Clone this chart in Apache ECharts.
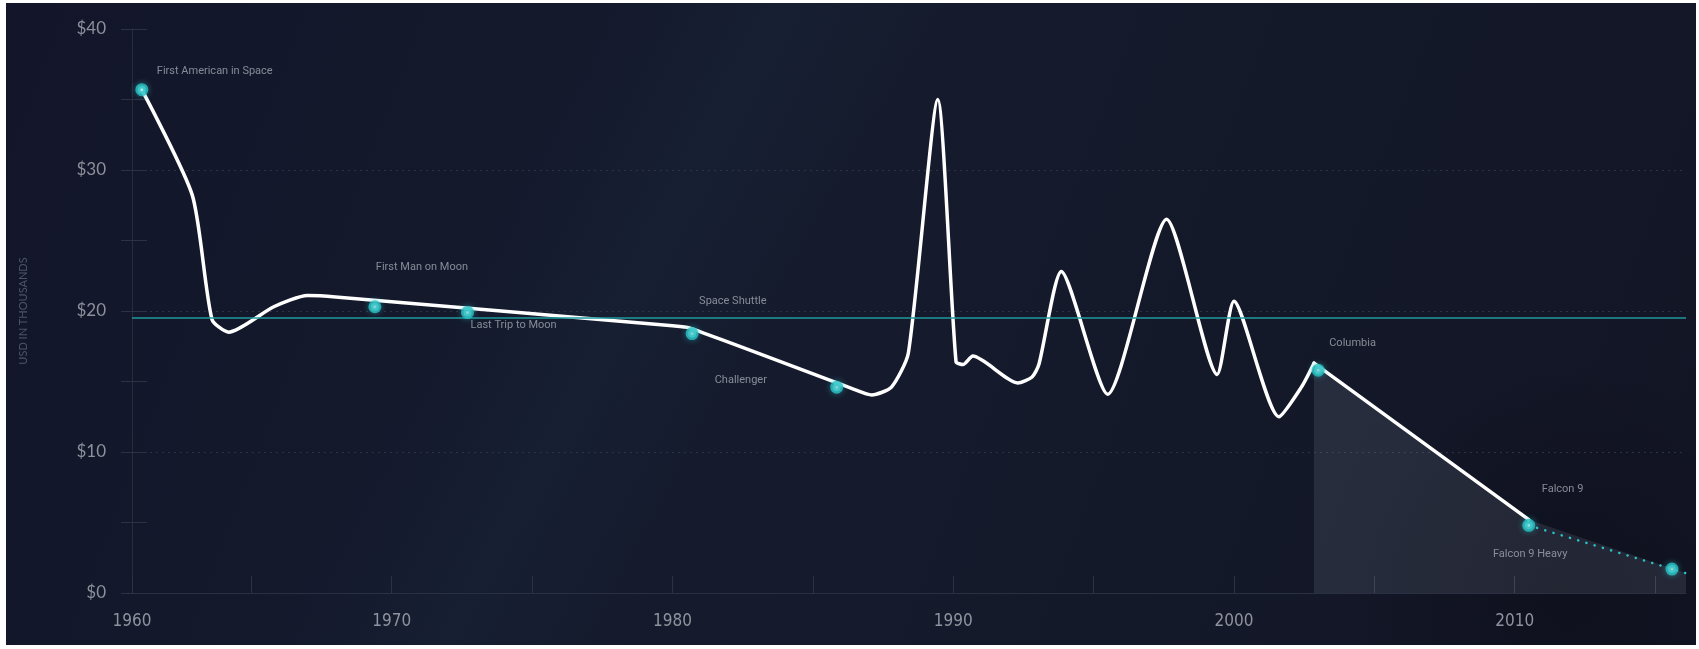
<!DOCTYPE html>
<html>
<head>
<meta charset="utf-8">
<title>Cost per pound to orbit</title>
<script src="https://cdn.jsdelivr.net/npm/echarts@6/dist/echarts.min.js"></script>
<style>
  html, body { margin: 0; padding: 0; background: #ffffff; }
  #chart { position: absolute; left: 6px; top: 3px; width: 1690px; height: 642px; }
</style>
</head>
<body>
<div id="chart"></div>
<script>
// Launch cost curve (USD thousands) by year
const lineYears = [1961.1, 1962.9, 1963.6, 1964.2, 1965.8, 1967.0, 1968.0, 1980.0, 1980.6, 1986.4, 1987.1, 1987.8, 1988.4, 1989.45, 1990.1, 1990.35, 1990.7, 1992.3, 1992.8, 1993.05, 1993.85, 1995.5, 1997.6, 1999.4, 2000.0, 2001.6, 2002.4, 2002.85, 2010.5];
const lineCosts = [35.7, 28.2, 19.4, 18.5, 20.3, 21.1, 21.0, 18.95, 18.8, 14.5, 14.05, 14.6, 17.0, 35.0, 16.4, 16.2, 16.8, 14.9, 15.3, 16.2, 22.8, 14.1, 26.5, 15.5, 20.7, 12.5, 14.6, 16.3, 5.2];

// Projected reusable-launch trend
const projectionYears = [2010.5, 2016.1];
const projectionCosts = [4.8, 1.4];

// Milestones
const eventNames = ['First American in Space', 'First Man on Moon', 'Last Trip to Moon', 'Space Shuttle', 'Challenger', 'Columbia', 'Falcon 9', 'Falcon 9 Heavy'];
const eventYears = [1961.1, 1969.4, 1972.7, 1980.7, 1985.85, 2003.0, 2010.5, 2015.6];
const eventCosts = [35.7, 20.3, 19.9, 18.4, 14.6, 15.8, 4.8, 1.7];

// Average cost across the period
const averageCost = 19.5;

// Axis ticks
const xTickYears = [1960.75, 1965, 1970, 1975, 1980, 1985, 1990, 1995, 2000, 2005, 2010, 2015];
const xLabelYears = [1960.75, 1970, 1980, 1990, 2000, 2010];
const xMin = 1960.75, xMax = 2016.1;
const yMin = 0, yMax = 40;

// label placement relative to each milestone dot (px)
const eventLabelOffsets = [[15, -18], [1, -40], [3, 13], [7, -32], [-122, -7], [11, -27], [13, -36], [-179, -15]];

const TEAL = '#2bc3c5';
const lineData = lineYears.map((y, i) => [y, lineCosts[i]]);
const projectionData = projectionYears.map((y, i) => [y, projectionCosts[i]]);
// the historic curve is smoothed up to Columbia, then runs straight to Falcon 9
const splitIndex = lineYears.indexOf(2002.85);
const curveData = lineData.slice(0, splitIndex + 1);
const tailData = lineData.slice(splitIndex);
const shadeData = tailData.concat(projectionData.slice(1));
const eventData = eventNames.map((n, i) => ({
  name: n,
  value: [eventYears[i], eventCosts[i]],
  label: { offset: eventLabelOffsets[i] }
}));

const chart = echarts.init(document.getElementById('chart'), null, { renderer: 'canvas' });

const option = {
  backgroundColor: {
    type: 'linear', x: 0, y: 0, x2: 1, y2: 1,
    colorStops: [
      { offset: 0, color: '#13162a' },
      { offset: 0.5, color: '#151b2d' },
      { offset: 1, color: '#121524' }
    ]
  },
  animation: false,
  graphic: [
    {
      // faint milky band across the sky
      type: 'rect', z: -10, silent: true,
      shape: { x: 0, y: 0, width: 1690, height: 642 },
      style: {
        fill: {
          type: 'linear', global: true, x: 470, y: 230, x2: 760, y2: 384,
          colorStops: [
            { offset: 0, color: 'rgba(40,75,95,0)' },
            { offset: 0.5, color: 'rgba(40,75,95,0.10)' },
            { offset: 1, color: 'rgba(40,75,95,0)' }
          ]
        }
      }
    },
    {
      // darker patch low on the right
      type: 'circle', z: -9, silent: true,
      shape: { cx: 1560, cy: 590, r: 230 },
      style: {
        fill: {
          type: 'radial', x: 0.5, y: 0.5, r: 0.5,
          colorStops: [
            { offset: 0, color: 'rgba(10,10,20,0.45)' },
            { offset: 1, color: 'rgba(10,10,20,0)' }
          ]
        }
      }
    }
  ],
  grid: { left: 126, right: 10, top: 26, bottom: 52 },
  xAxis: [
    {
      type: 'value', min: xMin, max: xMax,
      axisLine: { show: true, lineStyle: { color: '#2a3041', width: 1 } },
      axisTick: { show: false },
      splitLine: { show: false },
      axisLabel: {
        customValues: xLabelYears,
        formatter: v => String(Math.floor(v)),
        color: '#8f939d',
        fontFamily: "'Liberation Sans Narrow', 'DejaVu Sans Condensed', Lato, sans-serif",
        fontSize: 17,
        margin: 20
      }
    },
    {
      type: 'value', min: xMin, max: xMax, position: 'bottom', offset: 10,
      axisLine: { show: false },
      axisTick: { show: true, inside: true, length: 17, customValues: xTickYears, lineStyle: { color: '#2c3243', width: 1 } },
      axisLabel: { show: false },
      splitLine: { show: false }
    }
  ],
  yAxis: [
    {
      type: 'value', min: yMin, max: yMax, interval: 10,
      name: 'USD IN THOUSANDS', nameLocation: 'middle', nameGap: 103,
      nameTextStyle: { color: '#4e5465', fontSize: 11, fontFamily: 'Lato, sans-serif' },
      axisLine: { show: true, lineStyle: { color: '#272d3d', width: 1 } },
      axisTick: { show: false },
      axisLabel: {
        formatter: v => '$' + v,
        color: '#8c909a', fontSize: 17, fontFamily: 'Lato, sans-serif', margin: 26
      },
      splitLine: {
        show: true, showMinLine: false, showMaxLine: false,
        lineStyle: { color: '#2c3344', type: [2, 4], width: 1 }
      }
    },
    {
      type: 'value', min: yMin, max: yMax, interval: 5, position: 'left', offset: 11,
      axisLine: { show: false },
      axisTick: { show: true, inside: true, length: 26, lineStyle: { color: '#2c3243', width: 1 } },
      axisLabel: { show: false },
      splitLine: { show: false }
    }
  ],
  series: [
    {
      name: 'shade', type: 'line', data: shadeData, z: 1,
      symbol: 'none', lineStyle: { width: 0, opacity: 0 },
      areaStyle: { color: 'rgba(190,200,225,0.17)', origin: 'start' },
      silent: true
    },
    {
      name: 'average', type: 'line', data: [], z: 2,
      markLine: {
        silent: true, symbol: 'none', label: { show: false },
        lineStyle: { color: '#1f9a9d', width: 1.5, type: 'solid' },
        data: [{ yAxis: averageCost }]
      }
    },
    {
      name: 'cost', type: 'line', data: curveData, z: 3,
      smooth: 0.22, symbol: 'none',
      lineStyle: { color: '#ffffff', width: 3.5, cap: 'round', join: 'round' }
    },
    {
      name: 'cost recent', type: 'line', data: tailData, z: 3,
      smooth: false, symbol: 'none',
      lineStyle: { color: '#ffffff', width: 3.5, cap: 'round', join: 'round' }
    },
    {
      name: 'projection', type: 'line', data: projectionData, z: 3,
      symbol: 'none',
      lineStyle: { color: TEAL, width: 2.5, type: [0.1, 8.5], cap: 'round' }
    },
    {
      name: 'milestones', type: 'scatter', data: eventData, z: 5,
      symbol: 'circle', symbolSize: 8,
      itemStyle: { color: '#dcffff', borderColor: TEAL, borderWidth: 5, shadowBlur: 6, shadowColor: 'rgba(43,195,197,0.5)' },
      label: {
        show: true, position: 'inside', align: 'left', verticalAlign: 'middle',
        formatter: p => p.name,
        color: '#a3a8b2', fontSize: 11, fontFamily: 'Roboto, sans-serif'
      }
    }
  ]
};

chart.setOption(option);
</script>
</body>
</html>
